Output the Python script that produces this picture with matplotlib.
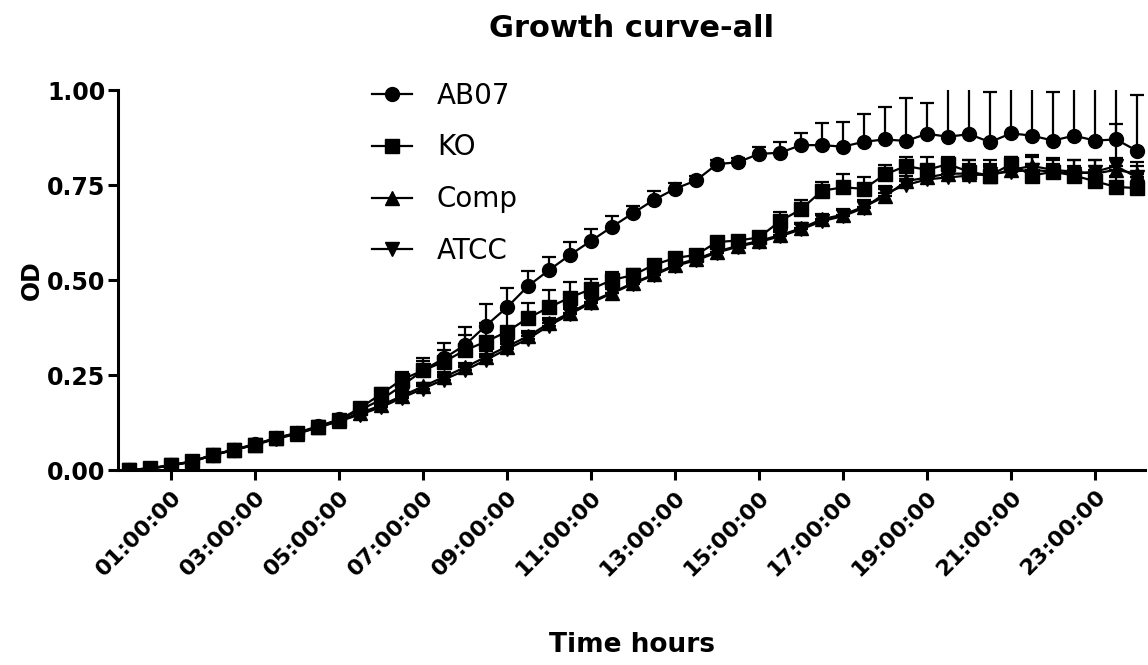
import numpy as np
import matplotlib
matplotlib.use('Agg')
import matplotlib.pyplot as plt
from matplotlib.lines import Line2D
from matplotlib.ticker import FuncFormatter

# time points (hours), every 30 min
hours = np.arange(0, 24.5, 0.5)

# OD values
ab07 = [0.000, 0.004, 0.012, 0.022, 0.040, 0.054, 0.068, 0.084, 0.098, 0.115,
        0.133, 0.158, 0.185, 0.222, 0.262, 0.294, 0.329, 0.380, 0.428, 0.484,
        0.526, 0.566, 0.603, 0.640, 0.676, 0.711, 0.740, 0.762, 0.805, 0.810,
        0.832, 0.835, 0.855, 0.855, 0.851, 0.864, 0.870, 0.866, 0.885, 0.877,
        0.884, 0.863, 0.886, 0.880, 0.867, 0.880, 0.867, 0.870, 0.840]
ab07_err = [0.003, 0.003, 0.004, 0.005, 0.005, 0.005, 0.006, 0.006, 0.007, 0.008,
            0.008, 0.012, 0.020, 0.030, 0.032, 0.040, 0.048, 0.057, 0.052, 0.040,
            0.035, 0.035, 0.030, 0.028, 0.020, 0.022, 0.015, 0.012, 0.010, 0.010,
            0.019, 0.029, 0.031, 0.057, 0.065, 0.072, 0.086, 0.112, 0.082, 0.160,
            0.160, 0.132, 0.160, 0.160, 0.128, 0.160, 0.160, 0.160, 0.147]

ko = [0.000, 0.005, 0.013, 0.023, 0.040, 0.053, 0.067, 0.084, 0.097, 0.114,
      0.132, 0.163, 0.200, 0.238, 0.262, 0.285, 0.315, 0.338, 0.364, 0.400,
      0.428, 0.454, 0.476, 0.500, 0.513, 0.540, 0.558, 0.566, 0.600, 0.604,
      0.612, 0.655, 0.686, 0.735, 0.744, 0.740, 0.778, 0.800, 0.790, 0.805,
      0.785, 0.775, 0.805, 0.775, 0.785, 0.775, 0.760, 0.745, 0.742]
ko_err = [0.004, 0.004, 0.004, 0.004, 0.004, 0.004, 0.004, 0.004, 0.004, 0.004,
          0.005, 0.010, 0.015, 0.020, 0.025, 0.030, 0.040, 0.050, 0.057, 0.040,
          0.045, 0.040, 0.028, 0.020, 0.015, 0.010, 0.010, 0.010, 0.010, 0.010,
          0.012, 0.025, 0.025, 0.024, 0.035, 0.030, 0.025, 0.025, 0.035, 0.020,
          0.030, 0.025, 0.020, 0.030, 0.020, 0.025, 0.030, 0.030, 0.030]

comp = [0.000, 0.004, 0.012, 0.022, 0.039, 0.053, 0.067, 0.083, 0.096, 0.113,
        0.130, 0.150, 0.170, 0.195, 0.220, 0.245, 0.270, 0.298, 0.325, 0.352,
        0.386, 0.414, 0.443, 0.467, 0.492, 0.515, 0.540, 0.555, 0.575, 0.590,
        0.603, 0.618, 0.636, 0.660, 0.672, 0.693, 0.720, 0.760, 0.770, 0.780,
        0.780, 0.775, 0.790, 0.800, 0.790, 0.785, 0.780, 0.790, 0.780]
comp_err = [0.003, 0.003, 0.003, 0.003, 0.004, 0.004, 0.004, 0.004, 0.005, 0.005,
            0.005, 0.006, 0.008, 0.010, 0.010, 0.012, 0.012, 0.014, 0.014, 0.015,
            0.015, 0.015, 0.014, 0.012, 0.012, 0.010, 0.010, 0.010, 0.010, 0.012,
            0.012, 0.012, 0.014, 0.015, 0.016, 0.018, 0.020, 0.025, 0.030, 0.035,
            0.035, 0.030, 0.035, 0.030, 0.030, 0.030, 0.035, 0.030, 0.030]

atcc = [0.000, 0.004, 0.012, 0.022, 0.039, 0.053, 0.066, 0.082, 0.095, 0.112,
        0.128, 0.146, 0.165, 0.190, 0.214, 0.238, 0.262, 0.290, 0.318, 0.345,
        0.380, 0.410, 0.440, 0.465, 0.490, 0.513, 0.537, 0.552, 0.572, 0.588,
        0.600, 0.615, 0.633, 0.655, 0.668, 0.690, 0.728, 0.750, 0.765, 0.770,
        0.775, 0.780, 0.785, 0.790, 0.785, 0.780, 0.785, 0.800, 0.770]
atcc_err = [0.003, 0.003, 0.003, 0.003, 0.004, 0.004, 0.004, 0.004, 0.005, 0.005,
            0.005, 0.006, 0.008, 0.010, 0.010, 0.012, 0.012, 0.014, 0.014, 0.015,
            0.015, 0.015, 0.014, 0.012, 0.012, 0.010, 0.010, 0.010, 0.010, 0.012,
            0.012, 0.012, 0.014, 0.015, 0.016, 0.018, 0.020, 0.025, 0.030, 0.030,
            0.030, 0.035, 0.030, 0.035, 0.030, 0.035, 0.030, 0.110, 0.030]

names = ['AB07', 'KO', 'Comp', 'ATCC']
markers = ['o', 's', '^', 'v']
values = [ab07, ko, comp, atcc]
errors = [ab07_err, ko_err, comp_err, atcc_err]

x_ticks = np.arange(1, 24, 2)

plt.rcParams['font.family'] = 'DejaVu Sans'

fig = plt.figure(figsize=(11.48, 6.65), dpi=100)
ax = fig.add_axes([0.1028, 0.2932, 0.8946, 0.5714])

for name, m, v, e in zip(names, markers, values, errors):
    v = np.array(v)
    e = np.array(e)
    # only upper error bars, like the original
    ax.errorbar(hours, v, yerr=[np.zeros_like(e), e], fmt='none', ecolor='black',
                elinewidth=1.6, capsize=5, capthick=1.6, zorder=2)
    ax.plot(hours, v, color='black', linewidth=1.6, marker=m, markersize=10,
            zorder=3)

ax.set_xlim(-0.26, 24.19)
ax.set_ylim(0, 1.0)
ax.set_yticks([0, 0.25, 0.5, 0.75, 1.0])
ax.yaxis.set_major_formatter(FuncFormatter(lambda y, p: f'{y:.2f}'))
ax.set_xticks(x_ticks)
ax.set_xticklabels([f'{int(h):02d}:00:00' for h in x_ticks], rotation=45,
                   ha='right', rotation_mode='anchor')

for lab in ax.get_xticklabels():
    lab.set_fontweight('bold')
    lab.set_fontsize(16)
for lab in ax.get_yticklabels():
    lab.set_fontweight('bold')
    lab.set_fontsize(17)

ax.spines['top'].set_visible(False)
ax.spines['right'].set_visible(False)
ax.spines['left'].set_linewidth(2.2)
ax.spines['bottom'].set_linewidth(2.2)
ax.tick_params(axis='both', width=2.2, length=7, direction='out')
ax.tick_params(axis='y', pad=2)
ax.tick_params(axis='x', pad=5)

ax.set_title('Growth curve-all', fontsize=22, fontweight='bold', pad=38)
ax.set_xlabel('Time hours', fontsize=19, fontweight='bold', labelpad=38)
ax.set_ylabel('OD', fontsize=17, fontweight='bold', labelpad=2)

handles = [Line2D([], [], color='black', linewidth=1.6, marker=m, markersize=10)
           for m in markers]
fig.legend(handles, names, loc='upper left', bbox_to_anchor=(0.302, 0.915),
           frameon=False, fontsize=20, handlelength=1.45, handletextpad=0.9,
           labelspacing=0.86)

fig.savefig('out.png', dpi=100)
